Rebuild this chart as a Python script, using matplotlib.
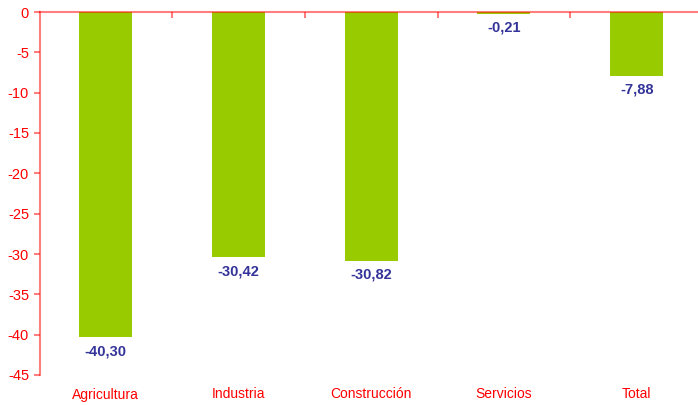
import matplotlib.pyplot as plt
import numpy as np

plt.rcParams['font.family'] = ['Liberation Sans', 'DejaVu Sans']

categorias = ['Agricultura', 'Industria', 'Construcción', 'Servicios', 'Total']
valores = [-40.30, -30.42, -30.82, -0.21, -7.88]

fig = plt.figure(figsize=(6.98, 4.05), dpi=100)
ax = fig.add_axes([39.5 / 698, 30 / 405, 663.5 / 698, 363 / 405])

x = np.arange(len(categorias))
ax.bar(x, valores, width=0.4, color='#99CC00', zorder=1)

for xi, v in zip(x, valores):
    ax.annotate(f'{v:.2f}'.replace('.', ','), (xi, v), xytext=(0, -5),
                textcoords='offset points', ha='center', va='top',
                fontsize=10.5, fontweight='bold', color='#333399')

ax.set_xlim(-0.5, len(categorias) - 0.5)
ax.set_ylim(-45, 0)
ax.set_yticks(np.arange(-45, 1, 5))

# ejes en rojo
for s in ['bottom', 'right']:
    ax.spines[s].set_visible(False)
for s in ['top', 'left']:
    ax.spines[s].set_color('#FF0000')
    ax.spines[s].set_alpha(0.5)
    ax.spines[s].set_linewidth(1.5)

ax.set_xticks(x)
ax.set_xticklabels(categorias)
ax.tick_params(axis='x', length=0, pad=9, labelsize=10, labelcolor='#FF0000')
ax.set_xticks(np.arange(0.5, len(categorias) - 0.5, 1), minor=True)
ax.tick_params(axis='x', which='minor', top=True, bottom=False, direction='in',
               length=4, color=(1, 0, 0, 0.5), width=1.5)
ax.tick_params(axis='y', length=4, width=1.5, color=(1, 0, 0, 0.5),
               labelsize=10.5, labelcolor='#FF0000')
ax.yaxis.set_major_formatter(plt.FuncFormatter(lambda v, p: f'{v:.0f}'))

fig.savefig('out.png', dpi=100)
